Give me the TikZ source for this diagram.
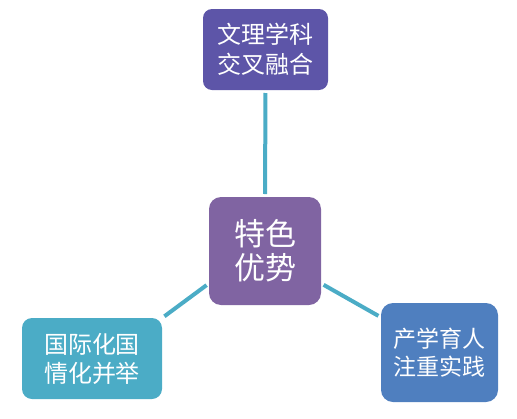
\documentclass[tikz,border=0pt]{standalone}
\usepackage{fontspec}
\newfontfamily\cjk{Noto Sans CJK SC}
\definecolor{topc}{HTML}{5D55A8}
\definecolor{midc}{HTML}{8064A2}
\definecolor{leftc}{HTML}{4BACC6}
\definecolor{rightc}{HTML}{4F7FBF}
\definecolor{linec}{HTML}{4BACC6}
\begin{document}
\begin{tikzpicture}[x=1pt,y=-1pt,
  box/.style={rounded corners=10pt, text=white, align=center, inner sep=0pt, outer sep=0pt},
  link/.style={draw=linec, line width=4pt, shorten >=3pt, shorten <=3pt}]
\useasboundingbox (0,0) rectangle (517,418);
\node[box, fill=topc, rounded corners=9pt, minimum width=125pt, minimum height=81pt,
  font=\cjk\fontsize{24}{30}\selectfont] (top) at (265.5,49.5) {文理学科\\交叉融合};
\node[box, fill=midc, rounded corners=12pt, minimum width=112pt, minimum height=108pt,
  font=\cjk\fontsize{31}{34}\selectfont] (mid) at (265,251) {特色\\优势};
\node[box, fill=leftc, minimum width=140pt, minimum height=81pt,
  font=\cjk\fontsize{24}{29}\selectfont] (left) at (92,358.5) {国际化国\\情化并举};
\node[box, fill=rightc, rounded corners=12pt, minimum width=117pt, minimum height=99pt,
  font=\cjk\fontsize{23}{28}\selectfont] (right) at (439.5,352.5) {产学育人\\注重实践};
\draw[link] (top.south) -- (mid.north);
\draw[link] (left.30) -- (mid.210);
\draw[link] (mid.330) -- (right.149);
\end{tikzpicture}
\end{document}
